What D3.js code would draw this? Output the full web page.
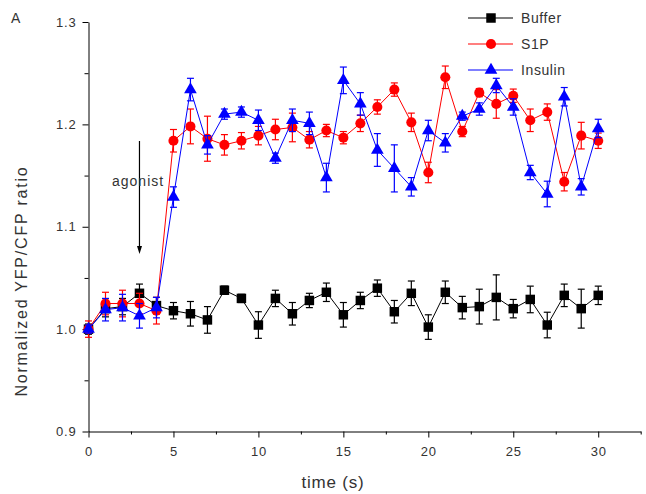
<!DOCTYPE html>
<html>
<head>
<meta charset="utf-8">
<script src="https://cdn.jsdelivr.net/npm/d3@7"></script>
<style>
  body { margin: 0; background: #fff; }
  text { font-family: "Liberation Sans", Arial, sans-serif; }
</style>
</head>
<body>
<div id="chart"></div>
<script>
// time points (s)
const time = [0, 1, 2, 3, 4, 5, 6, 7, 8, 9, 10, 11, 12, 13, 14, 15, 16, 17, 18, 19, 20, 21, 22, 23, 24, 25, 26, 27, 28, 29, 30];

const buffer = [1.000, 1.020, 1.022, 1.035, 1.023, 1.018, 1.015, 1.009, 1.038, 1.030, 1.004, 1.030, 1.015, 1.028, 1.036, 1.014,
  1.028, 1.040, 1.017, 1.035, 1.002, 1.036, 1.021, 1.022, 1.031, 1.020, 1.029, 1.004, 1.033, 1.020, 1.033];
const bufferErr = [0.005, 0.008, 0.008, 0.009, 0.008, 0.008, 0.012, 0.013, 0.004, 0.004, 0.013, 0.008, 0.011, 0.007, 0.009, 0.012,
  0.008, 0.008, 0.011, 0.012, 0.012, 0.011, 0.011, 0.017, 0.022, 0.009, 0.013, 0.0125, 0.011, 0.019, 0.009];

const s1p = [1.000, 1.025, 1.025, 1.025, 1.018, 1.184, 1.198, 1.186, 1.180, 1.184, 1.189, 1.195, 1.197, 1.185, 1.194, 1.187,
  1.201, 1.217, 1.234, 1.202, 1.153, 1.246, 1.193, 1.231, 1.220, 1.228, 1.204, 1.212, 1.144, 1.189, 1.184];
const s1pErr = [0.008, 0.011, 0.013, 0.010, 0.013, 0.011, 0.017, 0.022, 0.010, 0.008, 0.009, 0.010, 0.014, 0.008, 0.006, 0.006,
  0.008, 0.007, 0.0065, 0.009, 0.010, 0.011, 0.005, 0.004, 0.014, 0.0065, 0.011, 0.008, 0.009, 0.013, 0.0075];

const insulin = [1.000, 1.019, 1.021, 1.013, 1.021, 1.129, 1.234, 1.180, 1.210, 1.212, 1.204, 1.167, 1.204, 1.201, 1.148, 1.243,
  1.220, 1.175, 1.157, 1.139, 1.194, 1.182, 1.208, 1.215, 1.238, 1.217, 1.153, 1.132, 1.227, 1.139, 1.196];
const insulinErr = [0.004, 0.011, 0.013, 0.012, 0.010, 0.010, 0.011, 0.009, 0.005, 0.005, 0.010, 0.005, 0.011, 0.011, 0.014, 0.013,
  0.011, 0.016, 0.023, 0.009, 0.010, 0.009, 0.004, 0.006, 0.007, 0.008, 0.007, 0.0125, 0.009, 0.008, 0.009];

const xTicks = [0, 5, 10, 15, 20, 25, 30];
const xMinor = [2.5, 7.5, 12.5, 17.5, 22.5, 27.5, 32.5];
const yTicks = [0.9, 1.0, 1.1, 1.2, 1.3];
const yMinor = [0.95, 1.05, 1.15, 1.25];

const series = [
  { name: "Buffer", values: buffer, err: bufferErr, color: "#000000", symbol: "square" },
  { name: "S1P", values: s1p, err: s1pErr, color: "#ff0000", symbol: "circle" },
  { name: "Insulin", values: insulin, err: insulinErr, color: "#0000ff", symbol: "triangle" }
];

const width = 646;
const height = 494;

const svg = d3.select("#chart")
  .append("svg")
  .attr("width", width)
  .attr("height", height);

const x = d3.scaleLinear().domain([0, 32.5]).range([88.5, 640.7]);
const y = d3.scaleLinear().domain([0.9, 1.3]).range([431.5, 22]);

// Axes
svg.append("g")
  .attr("transform", `translate(0,${y(0.9)})`)
  .call(d3.axisBottom(x).tickValues(xTicks).tickSize(6).tickSizeOuter(0).tickPadding(9));
svg.append("g")
  .attr("transform", `translate(0,${y(0.9)})`)
  .call(d3.axisBottom(x).tickValues(xMinor).tickSize(3).tickFormat("").tickSizeOuter(0))
  .select(".domain").remove();

svg.append("g")
  .attr("transform", `translate(${x(0)},0)`)
  .call(d3.axisLeft(y).tickValues(yTicks).tickSize(6).tickSizeOuter(0).tickPadding(6).tickFormat(d3.format(".1f")));
svg.append("g")
  .attr("transform", `translate(${x(0)},0)`)
  .call(d3.axisLeft(y).tickValues(yMinor).tickSize(4).tickFormat(""))
  .select(".domain").remove();

svg.selectAll(".tick text")
  .style("font-size", "13px")
  .style("letter-spacing", "0.8px")
  .style("fill", "#333");

// Axis labels
svg.append("text")
  .attr("x", 333)
  .attr("y", 488)
  .attr("text-anchor", "middle")
  .style("font-size", "17px")
  .style("letter-spacing", "0.8px")
  .style("fill", "#333")
  .text("time (s)");

svg.append("text")
  .attr("transform", "translate(27,281) rotate(-90)")
  .attr("text-anchor", "middle")
  .style("font-size", "16px")
  .style("letter-spacing", "1.8px")
  .style("fill", "#333")
  .text("Normalized YFP/CFP ratio");

svg.append("text")
  .attr("x", 11)
  .attr("y", 23)
  .style("font-size", "14px")
  .style("fill", "#333")
  .text("A");

// agonist arrow
const ax = x(3);
svg.append("line")
  .attr("x1", ax).attr("x2", ax)
  .attr("y1", 141).attr("y2", 250)
  .attr("stroke", "#000")
  .attr("stroke-width", 1.2);
svg.append("path")
  .attr("d", `M${ax - 2.5},246 L${ax + 2.5},246 L${ax},254 Z`)
  .attr("fill", "#000");

svg.append("text")
  .attr("x", 112)
  .attr("y", 186)
  .style("font-size", "14px")
  .style("fill", "#333")
  .style("letter-spacing", "1px")
  .text("agonist");

function symbolPath(kind) {
  if (kind === "square") return d3.symbol(d3.symbolSquare, 90)();
  if (kind === "circle") return d3.symbol(d3.symbolCircle, 80)();
  return d3.symbol(d3.symbolTriangle, 70)();
}

const line = d3.line()
  .x(d => x(d.t))
  .y(d => y(d.v));

series.forEach(s => {
  const pts = time.map((t, i) => ({ t, v: s.values[i], e: s.err[i] }));
  const g = svg.append("g");

  g.append("path")
    .datum(pts)
    .attr("d", line)
    .attr("fill", "none")
    .attr("stroke", s.color)
    .attr("stroke-width", 1);

  // error bars
  const eb = g.selectAll("g.err")
    .data(pts)
    .join("g")
    .attr("class", "err")
    .attr("stroke", s.color)
    .attr("stroke-width", 1.2);
  eb.append("line")
    .attr("x1", d => x(d.t)).attr("x2", d => x(d.t))
    .attr("y1", d => y(d.v - d.e)).attr("y2", d => y(d.v + d.e));
  eb.append("line")
    .attr("x1", d => x(d.t) - 3.5).attr("x2", d => x(d.t) + 3.5)
    .attr("y1", d => y(d.v + d.e)).attr("y2", d => y(d.v + d.e));
  eb.append("line")
    .attr("x1", d => x(d.t) - 3.5).attr("x2", d => x(d.t) + 3.5)
    .attr("y1", d => y(d.v - d.e)).attr("y2", d => y(d.v - d.e));

  g.selectAll("path.pt")
    .data(pts)
    .join("path")
    .attr("class", "pt")
    .attr("d", symbolPath(s.symbol))
    .attr("transform", d => `translate(${x(d.t)},${y(d.v)})`)
    .attr("fill", s.color);
});

// Legend
const legend = svg.append("g");
series.forEach((s, i) => {
  const ly = 18 + i * 26;
  legend.append("line")
    .attr("x1", 468).attr("x2", 513)
    .attr("y1", ly).attr("y2", ly)
    .attr("stroke", s.color)
    .attr("stroke-width", 1.2);
  legend.append("path")
    .attr("d", symbolPath(s.symbol))
    .attr("transform", `translate(491,${ly})`)
    .attr("fill", s.color);
  legend.append("text")
    .attr("x", 521)
    .attr("y", ly + 5)
    .style("font-size", "14px")
    .style("fill", "#333")
    .style("letter-spacing", "0.6px")
    .text(s.name);
});
</script>
</body>
</html>
